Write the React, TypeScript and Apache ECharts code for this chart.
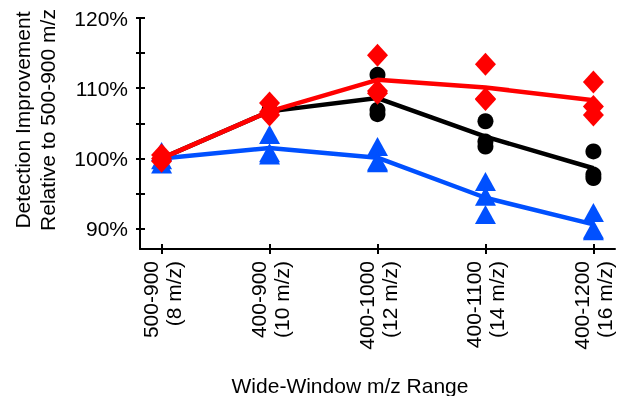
import React, { useEffect, useRef } from "react";
import * as echarts from "echarts";

const categories = ["500-900\n(8 m/z)", "400-900\n(10 m/z)", "400-1000\n(12 m/z)", "400-1100\n(14 m/z)", "400-1200\n(16 m/z)"];
const yTicks = [90, 95, 100, 105, 110, 115, 120];
const yLabels = [90, 100, 110, 120];

// line (mean) values per category
const blackLine = [100, 106.7, 108.6, 103.1, 98.6];
const blueLine = [100, 101.5, 100.1, 94.4, 90.6];
const redLine = [100, 106.7, 111.2, 110.1, 108.3];

// replicate points: [categoryIndex, value]
const blackPts = [[0, 100], [0, 99.8], [0, 100.2], [1, 106.5], [1, 106.9], [1, 106.7], [2, 111.9], [2, 106.9], [2, 106.3], [3, 105.3], [3, 102.4], [3, 101.7], [4, 101.0], [4, 97.7], [4, 97.2]];
const bluePts = [[0, 101.0], [0, 99.2], [0, 99.8], [1, 103.4], [1, 100.8], [1, 100.5], [2, 101.7], [2, 99.6], [2, 99.4], [3, 96.7], [3, 94.6], [3, 92.0], [4, 92.3], [4, 89.9], [4, 89.7]];
const redPts = [[0, 100.5], [0, 99.6], [0, 100.0], [1, 107.9], [1, 106.2], [1, 106.6], [2, 114.7], [2, 109.3], [2, 109.6], [3, 113.4], [3, 108.5], [3, 108.4], [4, 110.9], [4, 107.4], [4, 106.2]];

const FONT = "Liberation Sans, Arial, sans-serif";
const FS = 21;

export default function App() {
  const ref = useRef<HTMLDivElement>(null);
  useEffect(() => {
    const chart = echarts.init(ref.current!, null, { renderer: "svg" });
    const xIdx = categories.map((_, i) => i);
    const lineData = (arr: number[]) => arr.map((v, i) => [i, v]);
    const axisCommon = { lineStyle: { color: "#000", width: 2 } };
    chart.setOption({
      animation: false,
      grid: { left: 140, top: 18, width: 475, height: 231, containLabel: false },
      xAxis: [
        {
          type: "value", min: -0.2, max: 4.2, position: "bottom",
          splitLine: { show: false },
          axisLine: { show: true, onZero: false, ...axisCommon },
          axisTick: { show: true, customValues: xIdx, length: 5, inside: false, ...axisCommon },
          axisLabel: {
            show: true, customValues: xIdx, rotate: 90, margin: 12,
            formatter: (v: number) => categories[Math.round(v)] ?? "",
            color: "#000", fontFamily: FONT, fontSize: FS, lineHeight: 23,
          },
        },
        {
          type: "value", min: -0.2, max: 4.2, position: "bottom",
          splitLine: { show: false },
          axisLine: { show: false, onZero: false },
          axisTick: { show: true, customValues: xIdx, length: 5, inside: true, ...axisCommon },
          axisLabel: { show: false },
        },
      ],
      yAxis: [
        {
          type: "value", min: 87.1, max: 120, position: "left",
          splitLine: { show: false },
          axisLine: { show: true, onZero: false, ...axisCommon },
          axisTick: { show: true, customValues: yTicks, length: 4, inside: false, ...axisCommon },
          axisLabel: {
            show: true, customValues: yLabels, margin: 12,
            formatter: (v: number) => `${Math.round(v)}%`,
            color: "#000", fontFamily: FONT, fontSize: FS,
          },
        },
        {
          type: "value", min: 87.1, max: 120, position: "left",
          splitLine: { show: false },
          axisLine: { show: false, onZero: false },
          axisTick: { show: true, customValues: yTicks, length: 5, inside: true, ...axisCommon },
          axisLabel: { show: false },
        },
      ],
      graphic: [
        {
          type: "text", x: 350, y: 385,
          style: { text: "Wide-Window m/z Range", font: `${FS}px ${FONT}`, fill: "#000", align: "center", verticalAlign: "middle" },
        },
        {
          type: "text", x: 35, y: 120, rotation: Math.PI / 2,
          style: { text: "Detection Improvement\nRelative to 500-900 m/z", font: `${FS}px ${FONT}`, fill: "#000", align: "center", verticalAlign: "middle", lineHeight: 25 },
        },
      ],
      series: [
        { type: "line", data: lineData(blackLine), showSymbol: false, symbol: "none", lineStyle: { color: "#000", width: 4.5 }, z: 2 },
        { type: "scatter", data: blackPts, symbol: "circle", symbolSize: 16, itemStyle: { color: "#000", opacity: 1 }, z: 3 },
        { type: "line", data: lineData(blueLine), showSymbol: false, symbol: "none", lineStyle: { color: "#0050ff", width: 4.5 }, z: 4 },
        { type: "scatter", data: bluePts, symbol: "triangle", symbolSize: [21, 19], itemStyle: { color: "#0050ff", opacity: 1 }, z: 5 },
        { type: "line", data: lineData(redLine), showSymbol: false, symbol: "none", lineStyle: { color: "#ff0000", width: 4.5 }, z: 6 },
        { type: "scatter", data: redPts, symbol: "diamond", symbolSize: [21, 23], itemStyle: { color: "#ff0000", opacity: 1 }, z: 7 },
      ],
    });
    return () => chart.dispose();
  }, []);
  return <div ref={ref} style={{ position: "fixed", left: 0, top: 0, width: 619, height: 396 }} />;
}
